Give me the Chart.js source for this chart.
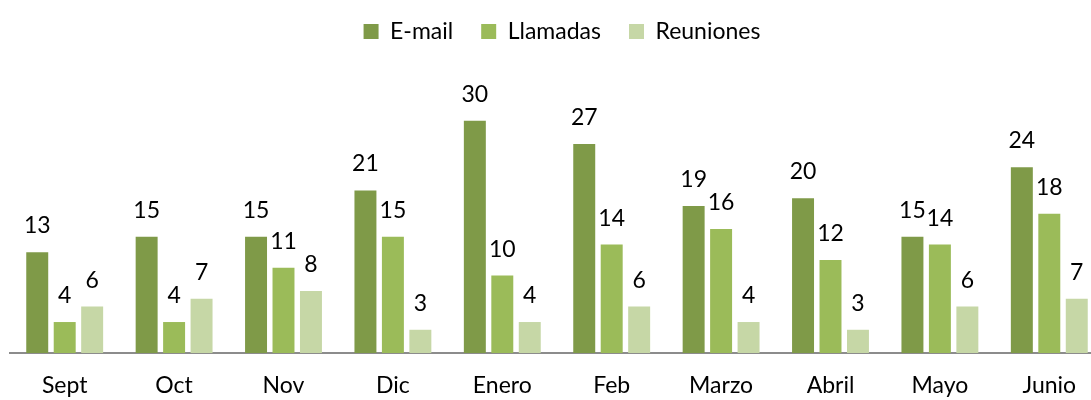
<!DOCTYPE html>
<html>
<head>
<meta charset="utf-8">
<script src="https://cdn.jsdelivr.net/npm/chart.js@4"></script>
<style>
  html, body { margin: 0; padding: 0; background: #fff; overflow: hidden; }
  #wrap { width: 1122px; height: 400px; }
</style>
</head>
<body>
<div id="wrap"><canvas id="barChart" width="1122" height="400"></canvas></div>
<script>
// meses (eje X)
const meses = ['Sept', 'Oct', 'Nov', 'Dic', 'Enero', 'Feb', 'Marzo', 'Abril', 'Mayo', 'Junio'];

// valores de cada serie
const email = [13, 15, 15, 21, 30, 27, 19, 20, 15, 24];
const llamadas = [4, 4, 11, 15, 10, 14, 16, 12, 14, 18];
const reuniones = [6, 7, 8, 3, 4, 6, 4, 3, 6, 7];

const fuente = 'Lato, "Open Sans", sans-serif';

// etiquetas de valor encima de cada barra
const etiquetas = {
  id: 'etiquetas',
  afterDatasetsDraw(chart) {
    const ctx = chart.ctx;
    ctx.save();
    ctx.font = '23px ' + fuente;
    ctx.fillStyle = '#000';
    ctx.textAlign = 'center';
    ctx.textBaseline = 'alphabetic';
    chart.data.datasets.forEach((ds, i) => {
      const meta = chart.getDatasetMeta(i);
      meta.data.forEach((bar, j) => {
        ctx.fillText(ds.data[j], bar.x, bar.y - 19);
      });
    });
    ctx.restore();
  }
};

// altura fija de la leyenda y pequeño desplazamiento a la derecha
const ajusteLeyenda = {
  id: 'ajusteLeyenda',
  beforeInit(chart) {
    const fit = chart.legend.fit;
    chart.legend.fit = function () {
      fit.call(this);
      this.height = 90;
    };
  },
  afterLayout(chart) {
    chart.legend.left += 5;
    chart.legend.right += 5;
  }
};

const ctx = document.getElementById('barChart').getContext('2d');
new Chart(ctx, {
  type: 'bar',
  data: {
    labels: meses,
    datasets: [
      { label: 'E-mail', data: email, backgroundColor: '#7F9A48' },
      { label: 'Llamadas', data: llamadas, backgroundColor: '#9BBB59' },
      { label: 'Reuniones', data: reuniones, backgroundColor: '#C6D7A6' },
    ],
  },
  options: {
    responsive: false,
    animation: false,
    layout: { padding: { left: 10, right: 18, top: -8, bottom: 0 } },
    datasets: {
      bar: { categoryPercentage: 0.753, barPercentage: 0.8 },
    },
    plugins: {
      legend: {
        display: true,
        position: 'top',
        labels: {
          boxWidth: 15,
          boxHeight: 15,
          padding: 28,
          color: '#000',
          font: { family: fuente, size: 23 },
        },
      },
      tooltip: { enabled: false },
    },
    scales: {
      x: {
        grid: { display: false, drawTicks: false },
        border: { display: true, color: '#8C8C8C', width: 2 },
        ticks: { color: '#000', padding: 19, font: { family: fuente, size: 23 } },
        afterFit(scale) { scale.height = 47; },
      },
      y: {
        display: false,
        min: 0,
        max: 35,
      },
    },
  },
  plugins: [etiquetas, ajusteLeyenda],
});
</script>
</body>
</html>
